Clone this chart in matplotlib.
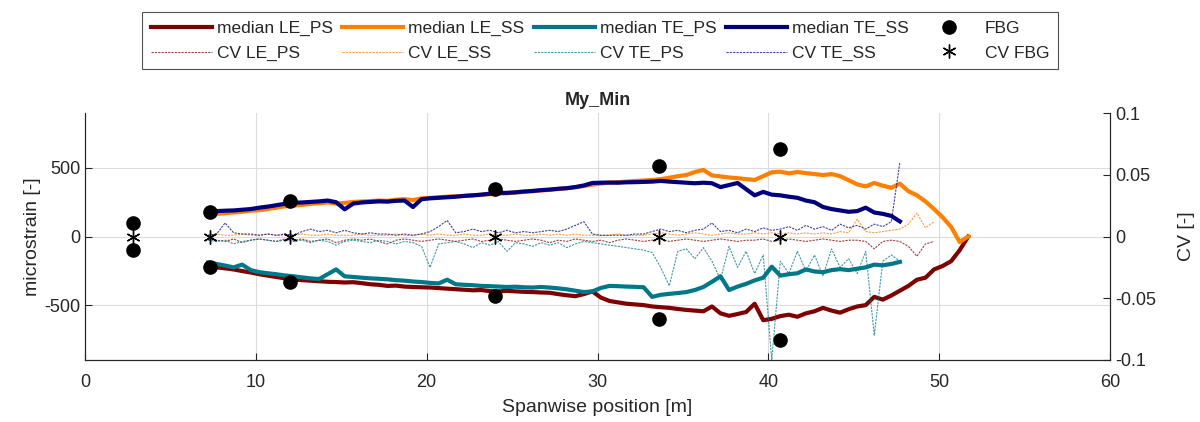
import numpy as np
import matplotlib
matplotlib.use("Agg")
import matplotlib.pyplot as plt

plt.rcParams['font.family'] = ['Liberation Sans', 'DejaVu Sans']
plt.rcParams['text.color'] = '#262626'
plt.rcParams['axes.labelcolor'] = '#262626'
plt.rcParams['xtick.color'] = '#262626'
plt.rcParams['ytick.color'] = '#262626'
plt.rcParams['axes.unicode_minus'] = False

# ---------------- data ----------------
x_start = 7.2
x_step = 0.5

median_LE_PS = [-210, -225, -232, -240, -252, -262, -275, -285, -295, -305,
                -312, -318, -322, -326, -330, -332, -335, -333, -340, -348,
                -352, -360, -358, -365, -368, -370, -372, -376, -380, -384,
                -388, -392, -390, -398, -400, -396, -400, -403, -405, -408,
                -410, -420, -428, -435, -420, -400, -445, -470, -480, -490,
                -495, -500, -510, -515, -520, -528, -535, -540, -545, -510,
                -560, -578, -565, -550, -490, -610, -600, -580, -570, -585,
                -560, -545, -520, -540, -555, -530, -510, -500, -440, -460,
                -430, -395, -360, -315, -300, -240, -215, -180, -100, 0]

median_LE_SS = [155, 165, 170, 175, 180, 188, 192, 200, 210, 220,
                225, 230, 238, 242, 248, 240, 245, 252, 255, 258,
                262, 260, 268, 272, 265, 278, 282, 286, 290, 293,
                296, 300, 304, 308, 312, 316, 320, 325, 330, 335,
                340, 346, 352, 360, 368, 378, 386, 392, 396, 400,
                405, 408, 412, 418, 428, 440, 448, 470, 485, 445,
                438, 430, 425, 418, 412, 440, 468, 472, 460, 470,
                462, 455, 448, 455, 440, 410, 380, 365, 390, 370,
                355, 385, 330, 300, 255, 200, 140, 70, -40, 0]

median_TE_PS = [-190, -200, -212, -225, -205, -245, -260, -268, -275, -284,
                -290, -298, -305, -310, -275, -240, -290, -295, -300, -305,
                -308, -312, -318, -322, -328, -332, -338, -342, -315, -348,
                -352, -355, -360, -362, -365, -368, -366, -370, -372, -368,
                -372, -378, -385, -395, -405, -400, -375, -360, -362, -365,
                -367, -370, -440, -425, -418, -412, -405, -390, -368, -330,
                -290, -390, -365, -345, -320, -300, -220, -285, -275, -268,
                -240, -255, -260, -245, -238, -245, -235, -225, -205, -210,
                -200, -185]

median_TE_SS = [180, 185, 188, 190, 195, 200, 210, 218, 228, 238,
                246, 248, 252, 256, 262, 250, 198, 240, 248, 252,
                256, 254, 260, 262, 215, 272, 278, 282, 286, 290,
                296, 300, 305, 312, 318, 318, 322, 328, 332, 338,
                342, 348, 352, 360, 372, 390, 392, 393, 392, 395,
                396, 398, 400, 405, 400, 396, 392, 388, 392, 388,
                360, 375, 390, 345, 300, 325, 305, 300, 290, 282,
                262, 250, 215, 200, 190, 180, 185, 210, 175, 165,
                150, 110]

cv_LE_PS = [-0.002, -0.003, -0.004, -0.002, -0.005, -0.003, -0.002, -0.003, -0.004, -0.002,
            -0.003, -0.002, -0.004, -0.003, -0.002, -0.005, -0.003, -0.002, -0.003, -0.002,
            -0.004, -0.006, -0.003, -0.002, -0.003, -0.004, -0.003, -0.002, -0.003, -0.004,
            -0.003, -0.002, -0.004, -0.003, -0.002, -0.003, -0.004, -0.003, -0.002, -0.003,
            -0.005, -0.003, -0.004, -0.002, -0.003, -0.004, -0.003, -0.005, -0.003, -0.002,
            -0.003, -0.004, -0.003, -0.002, -0.004, -0.003, -0.002, -0.003, -0.004, -0.003,
            -0.002, -0.003, -0.004, -0.003, -0.003, -0.002, -0.004, -0.003, -0.002, -0.003,
            -0.004, -0.003, -0.002, -0.003, -0.004, -0.003, -0.003, -0.004, -0.010, -0.004,
            -0.003, -0.004, -0.008, -0.016, -0.006, -0.004]

cv_LE_SS = [0.001, 0.002, 0.001, 0.001, 0.002, 0.001, 0.001, 0.002, 0.001, 0.001,
            0.001, 0.002, 0.001, 0.001, 0.002, 0.001, 0.001, 0.001, 0.002, 0.001,
            0.001, 0.001, 0.002, 0.001, 0.001, 0.002, 0.001, 0.002, 0.001, 0.001,
            0.002, 0.001, 0.001, 0.002, 0.001, 0.001, 0.002, 0.001, 0.001, 0.002,
            0.001, 0.002, 0.001, 0.002, 0.001, 0.001, 0.001, 0.001, 0.002, 0.001,
            0.001, 0.001, 0.002, 0.003, 0.002, 0.001, 0.002, 0.003, 0.002, 0.001,
            0.002, 0.003, 0.002, 0.002, 0.003, 0.002, 0.003, 0.002, 0.003, 0.002,
            0.003, 0.002, 0.003, 0.002, 0.004, 0.003, 0.014, 0.004, 0.003, 0.004,
            0.005, 0.006, 0.010, 0.019, 0.007, 0.012]

cv_TE_PS = [-0.003, -0.004, -0.003, -0.006, -0.004, -0.003, -0.002, -0.003, -0.004, -0.003,
            -0.004, -0.003, -0.005, -0.003, -0.004, -0.007, -0.004, -0.003, -0.004, -0.005,
            -0.003, -0.004, -0.006, -0.004, -0.005, -0.008, -0.025, -0.006, -0.005, -0.004,
            -0.006, -0.009, -0.005, -0.007, -0.004, -0.012, -0.005, -0.006, -0.008, -0.005,
            -0.007, -0.005, -0.009, -0.006, -0.004, -0.005, -0.006, -0.007, -0.008, -0.009,
            -0.010, -0.011, -0.013, -0.025, -0.040, -0.012, -0.010, -0.018, -0.009, -0.020,
            -0.035, -0.008, -0.025, -0.012, -0.030, -0.015, -0.100, -0.020, -0.030, -0.012,
            -0.028, -0.015, -0.032, -0.010, -0.025, -0.018, -0.030, -0.012, -0.080, -0.020,
            -0.015, -0.020]

cv_TE_SS = [0.001, 0.002, 0.011, 0.003, 0.002, 0.002, 0.001, 0.002, 0.001, 0.002,
            0.001, 0.004, 0.006, 0.004, 0.005, 0.003, 0.005, 0.003, 0.002, 0.003,
            0.002, 0.002, 0.001, 0.002, 0.001, 0.002, 0.004, 0.008, 0.013, 0.003,
            0.004, 0.006, 0.004, 0.005, 0.003, 0.005, 0.003, 0.004, 0.003, 0.004,
            0.005, 0.004, 0.006, 0.009, 0.012, 0.002, 0.001, 0.001, 0.001, 0.001,
            0.002, 0.002, 0.004, 0.006, 0.004, 0.005, 0.003, 0.005, 0.006, 0.011,
            0.004, 0.005, 0.003, 0.006, 0.004, 0.007, 0.005, 0.006, 0.008, 0.005,
            0.009, 0.006, 0.008, 0.005, 0.010, 0.007, 0.009, 0.006, 0.010, 0.008,
            0.012, 0.060]

fbg_pos = [2.8, 2.8, 7.3, 7.3, 12.0, 12.0, 24.0, 24.0, 33.6, 33.6, 40.7, 40.7]
fbg_val = [95, -100, 175, -220, 258, -328, 345, -430, 515, -600, 638, -755]
cvfbg_pos = [2.8, 7.3, 12.0, 24.0, 33.6, 40.7]
cvfbg_val = [0, 0, 0, 0, 0, 0]

# ---------------- styles ----------------
c_LEPS = '#7f0000'
c_LESS = '#ff7f00'
c_TEPS = '#00788a'
c_TESS = '#00007f'

def xgrid(vals):
    return x_start + x_step * np.arange(len(vals))

fig = plt.figure(figsize=(12, 4.22), dpi=100)
ax = fig.add_axes([85/1200, 1 - 360/422, 1025/1200, 247/422])
ax2 = ax.twinx()

lw_m = 3.0
h1, = ax.plot(xgrid(median_LE_PS), median_LE_PS, color=c_LEPS, lw=lw_m, label='median LE_PS')
h2, = ax.plot(xgrid(median_LE_SS), median_LE_SS, color=c_LESS, lw=lw_m, label='median LE_SS')
h3, = ax.plot(xgrid(median_TE_PS), median_TE_PS, color=c_TEPS, lw=lw_m, label='median TE_PS')
h4, = ax.plot(xgrid(median_TE_SS), median_TE_SS, color=c_TESS, lw=lw_m, label='median TE_SS')
h5, = ax.plot(fbg_pos, fbg_val, 'o', color='black', ms=9.5, ls='none', label='FBG', zorder=5)

lw_c = 0.8
ls_c = (0, (2, 1))
g1, = ax2.plot(xgrid(cv_LE_PS), cv_LE_PS, color=c_LEPS, lw=lw_c, ls=ls_c, alpha=0.75, label='CV LE_PS')
g2, = ax2.plot(xgrid(cv_LE_SS), cv_LE_SS, color=c_LESS, lw=lw_c, ls=ls_c, alpha=0.75, label='CV LE_SS')
g3, = ax2.plot(xgrid(cv_TE_PS), cv_TE_PS, color=c_TEPS, lw=lw_c, ls=ls_c, alpha=0.75, label='CV TE_PS')
g4, = ax2.plot(xgrid(cv_TE_SS), cv_TE_SS, color=c_TESS, lw=lw_c, ls=ls_c, alpha=0.75, label='CV TE_SS')
g5, = ax2.plot(cvfbg_pos, cvfbg_val, color='black', ms=10, ls='none', label='CV FBG',
               marker=(6, 2, 0), mew=1.0)

ax.set_xlim(0, 60)
ax.set_ylim(-900, 900)
ax2.set_ylim(-0.1, 0.1)
ax.set_xticks([0, 10, 20, 30, 40, 50, 60])
ax.set_yticks([-500, 0, 500])
ax2.set_yticks([-0.1, -0.05, 0, 0.05, 0.1])
ax2.set_yticklabels(['-0.1', '-0.05', '0', '0.05', '0.1'])

ax.grid(True, color='#dcdcdc', lw=0.8)
ax.set_axisbelow(True)
for a in (ax, ax2):
    a.spines['top'].set_visible(False)
    for s in ('left', 'right', 'bottom'):
        a.spines[s].set_color('#262626')
        a.spines[s].set_linewidth(0.8)
ax.tick_params(direction='in', labelsize=13, length=5)
ax.tick_params(axis='x', pad=10)
ax2.tick_params(direction='in', labelsize=13, length=5)

ax.set_xlabel('Spanwise position [m]', fontsize=14, labelpad=6)
ax.set_ylabel('microstrain [-]', fontsize=14, labelpad=2)
ax2.set_ylabel('CV [-]', fontsize=14, labelpad=16)
ax.set_title('My_Min', fontsize=13, fontweight='bold', pad=6)

handles = [h1, g1, h2, g2, h3, g3, h4, g4, h5, g5]
leg = fig.legend(handles=handles, loc='upper center', bbox_to_anchor=(0.5, 1 - 12/422),
                 ncol=5, fontsize=12.5, frameon=True, fancybox=False, borderaxespad=0,
                 handlelength=3.5, handletextpad=0.3, columnspacing=0.55,
                 labelspacing=0.55, borderpad=0.5)
leg.get_frame().set_edgecolor('#262626')
leg.get_frame().set_linewidth(0.8)

fig.savefig('out.png', dpi=100)
